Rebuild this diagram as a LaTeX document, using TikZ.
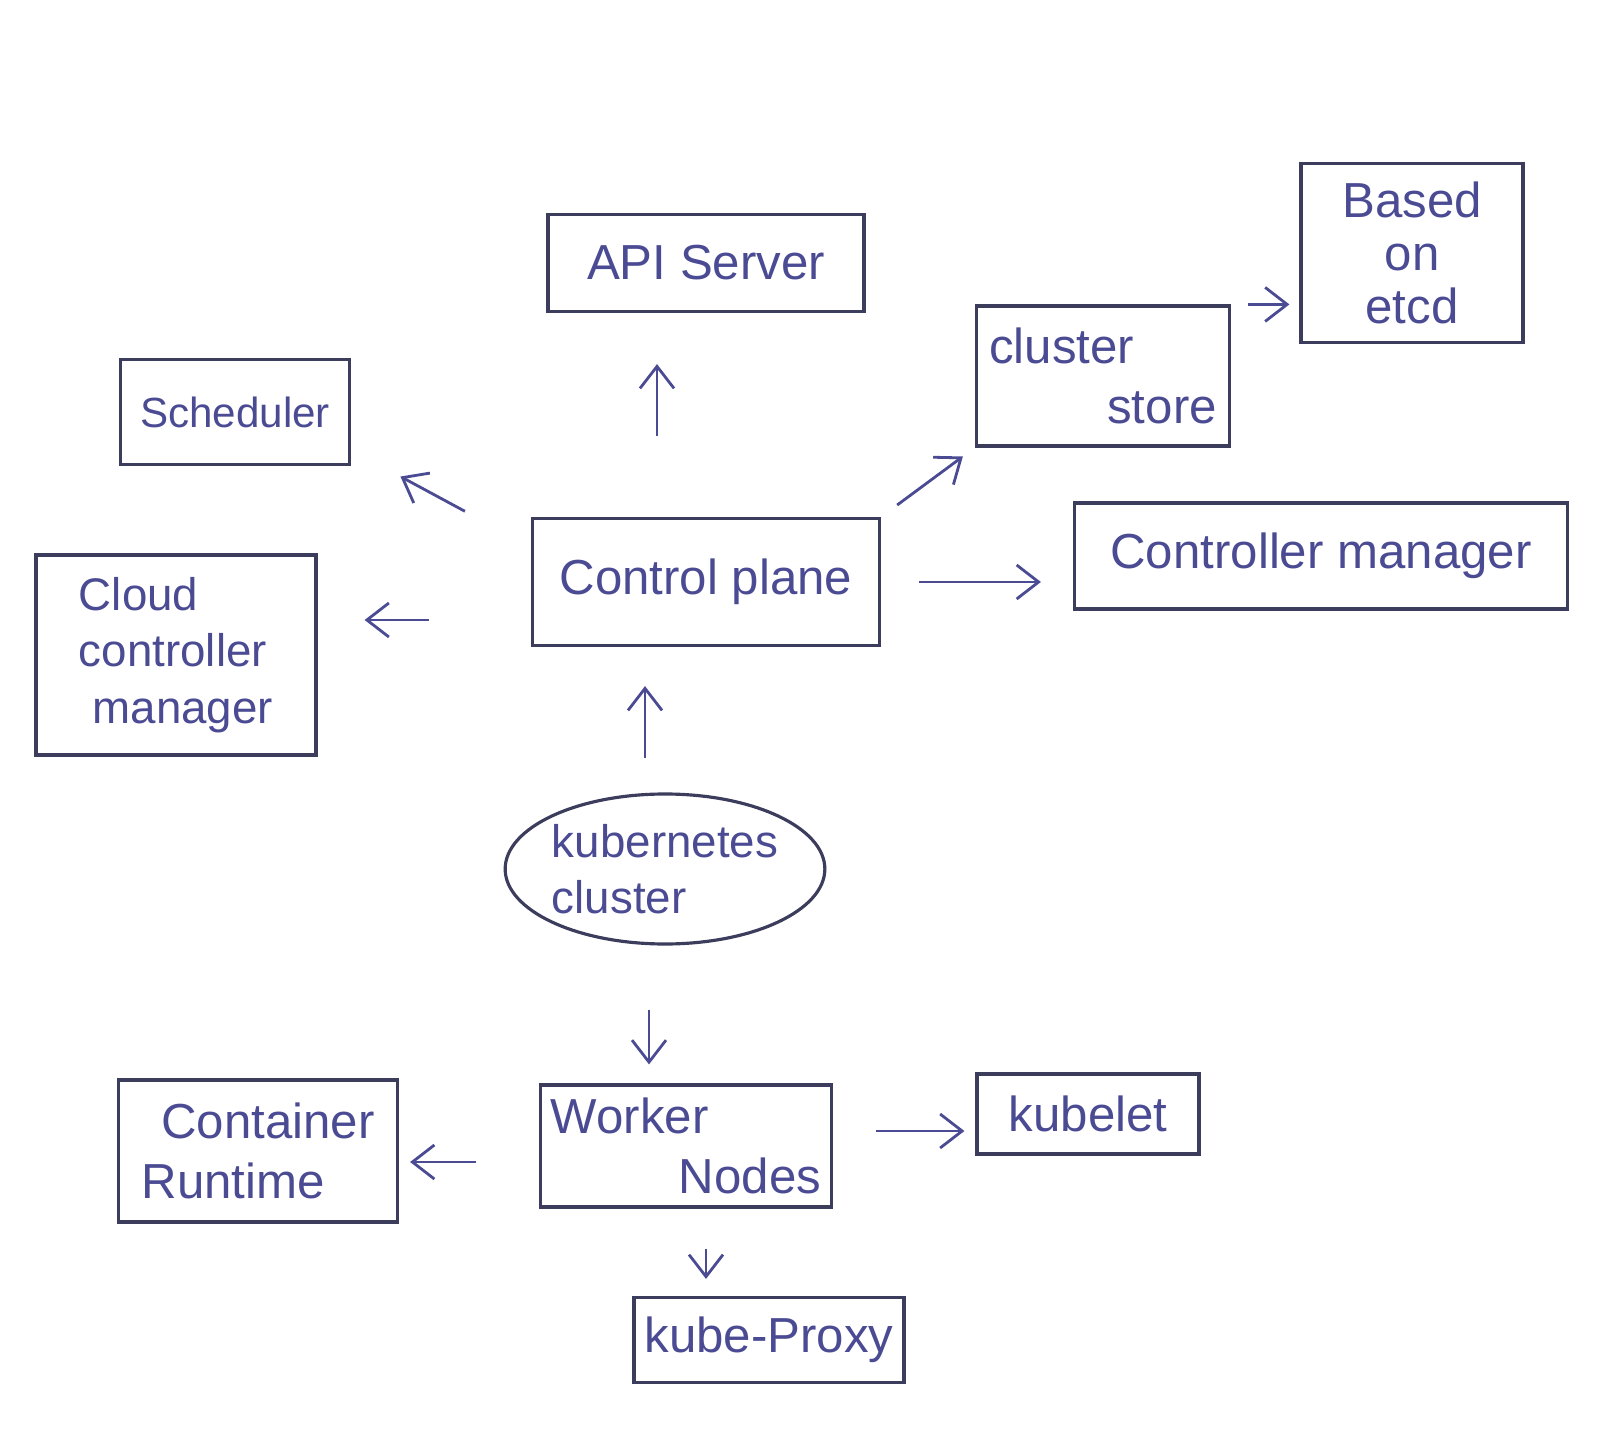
\documentclass[tikz,border=0pt]{standalone}
\usepackage{fontspec}
\setmainfont{Liberation Sans}
\usetikzlibrary{shapes.geometric,arrows.meta}
\definecolor{ink}{HTML}{4B4B94}
\definecolor{pen}{HTML}{3C3C5C}

\begin{document}
\begin{tikzpicture}[font=\fontsize{14}{17}\selectfont,text=ink,
  outline/.style={draw=pen,line width=0.9pt},
  box/.style={outline,rectangle,inner sep=3pt},
  arr/.style={draw=ink,line width=0.8pt,-{Straight Barb[length=2.2mm,width=3.4mm]}}]
\useasboundingbox (0,0) rectangle (16,-14.3);
\node (api) [box,minimum width=3.16cm,minimum height=0.97cm] at (7.06,-2.63) {API Server};
\node (etcd) [box,minimum width=2.22cm,minimum height=1.79cm,align=center,font=\fontsize{14}{15}\selectfont] at (14.12,-2.53) {Based\\on\\etcd};
\node (store) [box,minimum width=2.53cm,minimum height=1.40cm,align=left] at (11.03,-3.76) {cluster\\\hspace*{2.4em}store};
\node (sched) [box,minimum width=2.29cm,minimum height=1.05cm,font=\fontsize{12}{15}\selectfont] at (2.35,-4.12) {Scheduler};
\node (cloud) [box,minimum width=2.8cm,minimum height=2.0cm,align=left,font=\fontsize{13}{16}\selectfont] at (1.76,-6.55) {Cloud\\controller\\\hspace*{0.3em}manager};
\node (cp) [box,minimum width=3.47cm,minimum height=1.27cm] at (7.06,-5.82) {Control plane};
\node (cm) [box,minimum width=4.93cm,minimum height=1.06cm] at (13.21,-5.56) {Controller manager};
\node (kc) [outline,ellipse,minimum width=3.03cm,minimum height=1.5cm,inner sep=0pt,align=left,font=\fontsize{13}{16}\selectfont] at (6.65,-8.69) {kubernetes\\cluster};
\node (cr) [box,minimum width=2.79cm,minimum height=1.42cm,align=left] at (2.58,-11.51) {\hspace*{0.4em}Container\\Runtime};
\node (wn) [box,minimum width=2.81cm,minimum height=1.22cm,align=left] at (6.86,-11.46) {Worker\\\hspace*{2.6em}Nodes};
\node (kl) [box,minimum width=2.22cm,minimum height=0.80cm] at (10.88,-11.14) {kubelet};
\node (kp) [box,minimum width=2.68cm,minimum height=0.85cm] at (7.69,-13.40) {kube-Proxy};
\draw[arr,shorten <=0.81cm,shorten >=0.51cm] ([xshift=-0.49cm]cp.north) -- ([xshift=-0.49cm]api.south);
\draw[arr,shorten <=0.2cm,shorten >=0.15cm] (cp.north east) -- (store.south west);
\draw[arr,shorten <=0.17cm,shorten >=0.1cm] (store.north east) -- (store.north east -| etcd.west);
\draw[arr,shorten <=0.75cm,shorten >=0.22cm] ([yshift=-0.3cm]cp.north west) -- ([xshift=0.3cm]sched.south east);
\draw[arr,shorten <=1.02cm,shorten >=0.47cm] ([yshift=-0.38cm]cp.west) -- ([yshift=-0.38cm]cp.west -| cloud.east);
\draw[arr,shorten <=0.38cm,shorten >=0.32cm] (cp.east) -- (cp.east -| cm.west);
\draw[arr,shorten <=0.34cm,shorten >=0.39cm] ([xshift=-0.2cm]kc.north) -- ([xshift=-0.2cm]kc.north |- cp.south);
\draw[arr,shorten <=0.64cm,shorten >=0.19cm] ([xshift=-0.16cm]kc.south) -- ([xshift=-0.16cm]kc.south |- wn.north);
\draw[arr,shorten <=0.63cm,shorten >=0.11cm] ([yshift=-0.16cm]wn.west) -- ([yshift=-0.16cm]wn.west -| cr.east);
\draw[arr,shorten <=0.43cm,shorten >=0.11cm] ([yshift=0.15cm]wn.east) -- ([yshift=0.15cm]wn.east -| kl.west);
\draw[arr,shorten <=0.40cm,shorten >=0.17cm] ([xshift=0.2cm]wn.south) -- ([xshift=0.2cm]wn.south |- kp.north);
\end{tikzpicture}
\end{document}
